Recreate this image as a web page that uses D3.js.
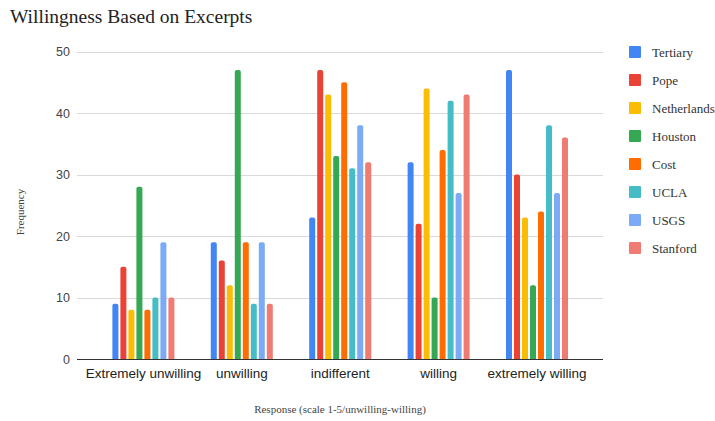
<!DOCTYPE html>
<html>
<head>
<meta charset="utf-8">
<script src="https://cdn.jsdelivr.net/npm/d3@7"></script>
<style>
  html, body { margin: 0; padding: 0; background: #fff; }
  svg { display: block; }
</style>
</head>
<body>
<svg id="chart" width="715" height="421"></svg>
<script>
// Response categories along the x axis
const categories = ["Extremely unwilling", "unwilling", "indifferent", "willing", "extremely willing"];

// One series per excerpt source
const seriesNames = ["Tertiary", "Pope", "Netherlands", "Houston", "Cost", "UCLA", "USGS", "Stanford"];
const tertiary    = [9, 19, 23, 32, 47];
const pope        = [15, 16, 47, 22, 30];
const netherlands = [8, 12, 43, 44, 23];
const houston     = [28, 47, 33, 10, 12];
const cost        = [8, 19, 45, 34, 24];
const ucla        = [10, 9, 31, 42, 38];
const usgs        = [19, 19, 38, 27, 27];
const stanford    = [10, 9, 32, 43, 36];
const seriesValues = [tertiary, pope, netherlands, houston, cost, ucla, usgs, stanford];

const yTicks = [0, 10, 20, 30, 40, 50];
const colors = ["#4285F4", "#EA4335", "#FBBC04", "#34A853", "#FF6D01", "#46BDC6", "#7BAAF7", "#F07B72"];

const svg = d3.select("#chart");
const serif = "'Liberation Serif', 'DejaVu Serif', serif";
const sans = "'Liberation Sans', Arial, sans-serif";

const plot = { left: 77, right: 603, top: 51.5, bottom: 359 };

const x = d3.scaleBand().domain(categories).range([94.2, 586.2]);
const y = d3.scaleLinear().domain([0, 50]).range([plot.bottom, plot.top]);
const inner = d3.scaleBand().domain(seriesNames).range([-32, 32]);
const barW = 6;

// Title
svg.append("text")
  .attr("x", 10).attr("y", 23)
  .attr("font-family", serif).attr("font-size", 19.5).attr("fill", "#222")
  .text("Willingness Based on Excerpts");

// Gridlines
svg.append("g").selectAll("line")
  .data(yTicks.filter(t => t > 0))
  .join("line")
  .attr("x1", plot.left).attr("x2", plot.right)
  .attr("y1", d => Math.round(y(d)) + 0.5).attr("y2", d => Math.round(y(d)) + 0.5)
  .attr("stroke", "#d9d9d9").attr("stroke-width", 1);

// Y axis tick labels
const yAxis = svg.append("g")
  .attr("transform", `translate(${plot.left - 7},0)`)
  .call(d3.axisLeft(y).tickValues(yTicks).tickSize(0).tickPadding(0).tickFormat(d3.format("d")));
yAxis.select(".domain").remove();
yAxis.selectAll("text")
  .attr("font-family", sans).attr("font-size", 12.5).attr("fill", "#444");

// Bars
const groups = svg.append("g").selectAll("g")
  .data(categories)
  .join("g")
  .attr("transform", c => `translate(${x(c) + x.bandwidth() / 2},0)`);

groups.selectAll("path")
  .data((c, ci) => seriesNames.map((s, si) => ({ s, si, v: seriesValues[si][ci] })))
  .join("path")
  .attr("fill", d => colors[d.si])
  .attr("d", d => {
    const cx = inner(d.s) + inner.bandwidth() / 2;
    const x0 = cx - barW / 2, x1 = cx + barW / 2;
    const yt = y(d.v), yb = y(0);
    const r = 2;
    return `M${x0},${yb} L${x0},${yt + r} Q${x0},${yt} ${x0 + r},${yt} L${x1 - r},${yt} Q${x1},${yt} ${x1},${yt + r} L${x1},${yb} Z`;
  });

// Baseline
svg.append("line")
  .attr("x1", plot.left).attr("x2", plot.right)
  .attr("y1", plot.bottom + 0.5).attr("y2", plot.bottom + 0.5)
  .attr("stroke", "#333").attr("stroke-width", 1.2);

// X axis category labels
const xAxis = svg.append("g")
  .attr("transform", `translate(0,${plot.bottom})`)
  .call(d3.axisBottom(x).tickSize(0).tickPadding(9));
xAxis.select(".domain").remove();
xAxis.selectAll("text")
  .attr("font-family", sans).attr("font-size", 13.5).attr("fill", "#222");

// Axis titles
svg.append("text")
  .attr("x", (plot.left + plot.right) / 2).attr("y", 413)
  .attr("text-anchor", "middle")
  .attr("font-family", serif).attr("font-size", 11).attr("fill", "#444")
  .text("Response (scale 1-5/unwilling-willing)");

svg.append("text")
  .attr("transform", "translate(24,212) rotate(-90)")
  .attr("text-anchor", "middle")
  .attr("font-family", serif).attr("font-size", 11).attr("fill", "#444")
  .text("Frequency");

// Legend
const legend = svg.append("g").selectAll("g")
  .data(seriesNames)
  .join("g")
  .attr("transform", (d, i) => `translate(629,${46 + i * 28})`);
legend.append("rect")
  .attr("width", 12).attr("height", 12).attr("rx", 1)
  .attr("fill", (d, i) => colors[i]);
legend.append("text")
  .attr("x", 23).attr("y", 11)
  .attr("font-family", serif).attr("font-size", 13).attr("fill", "#333")
  .text(d => d);
</script>
</body>
</html>
